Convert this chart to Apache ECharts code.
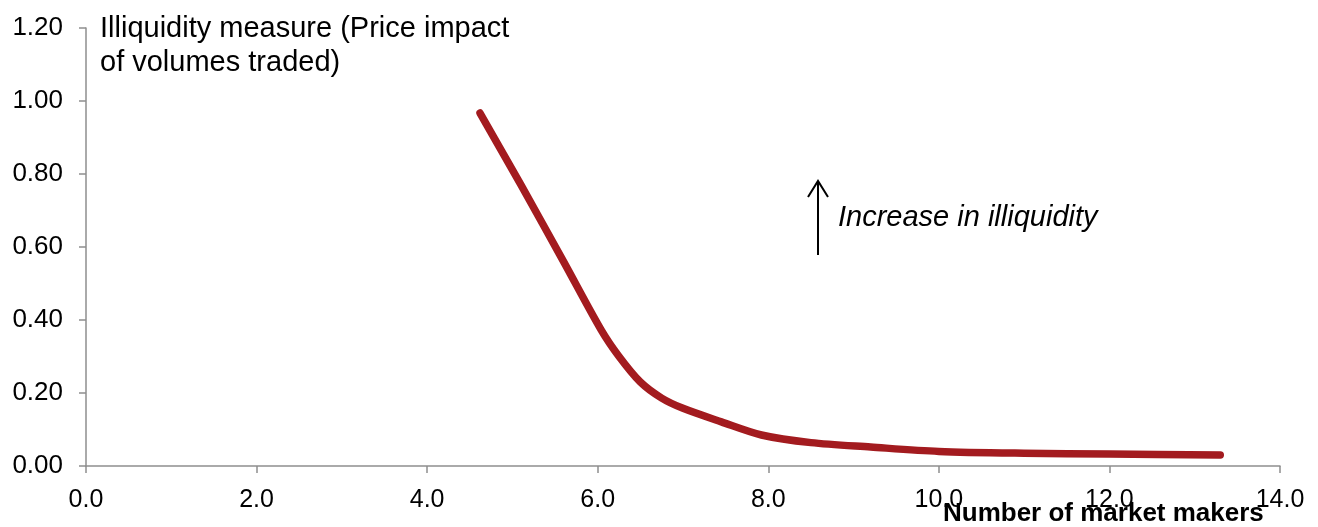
<!DOCTYPE html>
<html>
<head>
	<meta http-equiv="content-type" content="text/html;charset=utf-8">
	<title>Illiquidity and market makers</title>
	<style>
		html, body { margin:0; padding:0; background:#fff; }
		#chartcontainer { width:1318px; height:527px; }
	</style>
	<script src="https://cdn.jsdelivr.net/npm/echarts@6/dist/echarts.min.js" type="text/javascript"></script>
</head>
<body>
<div id="chartcontainer"></div>
<script type="text/javascript">
	// number of market makers (x) and illiquidity measure (y)
	var makers = [4.62, 5.1, 5.6, 6.04, 6.25, 6.5, 6.75, 7.0, 7.45, 7.92, 8.5, 9.2, 10.0, 11.0, 12.0, 13.3];
	var illiquidity = [0.967, 0.77, 0.56, 0.373, 0.30, 0.23, 0.186, 0.158, 0.121, 0.085, 0.064, 0.052, 0.040, 0.035, 0.033, 0.030];
	var xTicks = { min: 0, max: 14, step: 2 };
	var yTicks = { min: 0, max: 1.2, step: 0.2 };
	var yTitle = 'Illiquidity measure (Price impact\nof volumes traded)';
	var xTitle = 'Number of market makers';
	var note = 'Increase in illiquidity';

	var pts = [];
	for (var i = 0; i < makers.length; i++) {
		pts.push([makers[i], illiquidity[i]]);
	}

	var font = '"Liberation Sans", Arial, sans-serif';
	var axisGray = '#8e8e8e';

	var myChart = echarts.init(document.getElementById('chartcontainer'));
	var option = {
		animation: false,
		grid: { left: 86, right: 38, top: 28, bottom: 61, containLabel: false },
		xAxis: {
			type: 'value',
			min: xTicks.min, max: xTicks.max, interval: xTicks.step,
			axisLine: { show: true, lineStyle: { color: axisGray, width: 1.5 } },
			axisTick: { show: true, inside: false, length: 7, lineStyle: { color: axisGray, width: 1.5 } },
			splitLine: { show: false },
			axisLabel: {
				margin: 22, color: '#000', fontFamily: font, fontSize: 25,
				formatter: function (v) { return v.toFixed(1); }
			}
		},
		yAxis: {
			type: 'value',
			min: yTicks.min, max: yTicks.max, interval: yTicks.step,
			axisLine: { show: true, lineStyle: { color: axisGray, width: 1.5 } },
			axisTick: { show: true, inside: false, length: 7, lineStyle: { color: axisGray, width: 1.5 } },
			splitLine: { show: false },
			axisLabel: {
				margin: 23, color: '#000', fontFamily: font, fontSize: 26,
				formatter: function (v) { return v.toFixed(2); }
			}
		},
		series: [{
			type: 'line',
			data: pts,
			smooth: 0.3,
			showSymbol: false,
			lineStyle: { color: '#a31b1f', width: 7.5, cap: 'round', join: 'round' }
		}],
		graphic: [
			{
				type: 'text', left: 100, top: 12,
				style: { text: yTitle, fill: '#000', font: '29px ' + font, lineHeight: 34 }
			},
			{
				type: 'text', left: 943, top: 501,
				style: { text: xTitle, fill: '#000', font: 'bold 26px ' + font }
			},
			{
				type: 'line',
				shape: { x1: 818, y1: 255, x2: 818, y2: 181 },
				style: { stroke: '#000', lineWidth: 2 }
			},
			{
				type: 'polyline',
				shape: { points: [[808, 197], [818, 181], [828, 197]] },
				style: { stroke: '#000', lineWidth: 2, fill: null }
			},
			{
				type: 'text', left: 838, top: 203,
				style: { text: note, fill: '#000', font: 'italic 29px ' + font }
			}
		]
	};
	myChart.setOption(option);
</script>
</body>
</html>
